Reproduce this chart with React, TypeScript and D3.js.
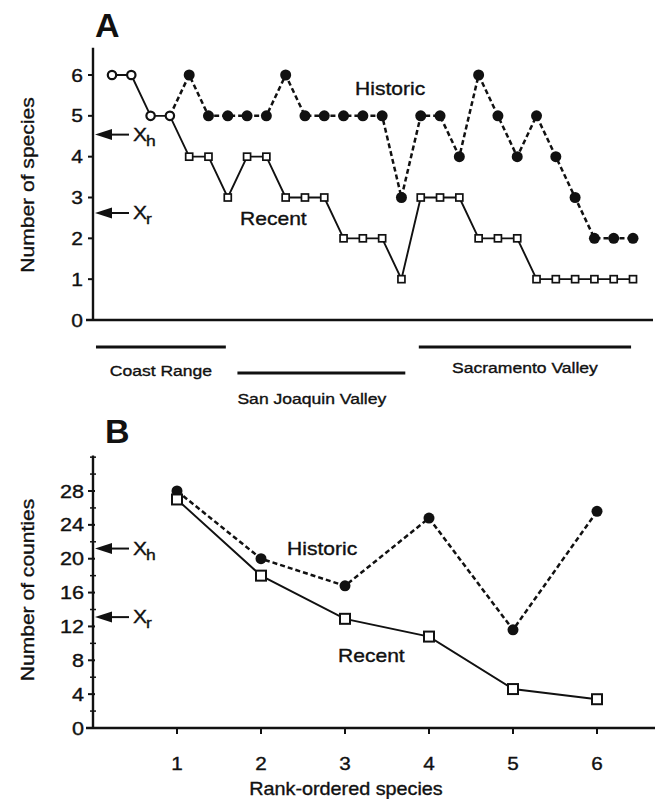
import React from "react";
import * as d3 from "d3";

// ---------- Panel A data ----------
const sitesA = [1, 2, 3, 4, 5, 6, 7, 8, 9, 10, 11, 12, 13, 14, 15, 16, 17, 18, 19, 20, 21, 22, 23, 24, 25, 26, 27, 28];
const historicA = [6, 6, 5, 5, 6, 5, 5, 5, 5, 6, 5, 5, 5, 5, 5, 3, 5, 5, 4, 6, 5, 4, 5, 4, 3, 2, 2, 2];
const recentA = [6, 6, 5, 5, 4, 4, 3, 4, 4, 3, 3, 3, 2, 2, 2, 1, 3, 3, 3, 2, 2, 2, 1, 1, 1, 1, 1, 1];
const yTicksA = [0, 1, 2, 3, 4, 5, 6];
const meanHistA = 4.54;
const meanRecA = 2.62;
const regionNames = ["Coast Range", "San Joaquin Valley", "Sacramento Valley"];
const regionStart = [0.17, 7.5, 16.9];
const regionEnd = [6.9, 16.2, 27.9];

// ---------- Panel B data ----------
const rankB = [1, 2, 3, 4, 5, 6];
const historicB = [28, 20, 16.8, 24.8, 11.6, 25.6];
const recentB = [27, 18, 12.9, 10.8, 4.6, 3.4];
const yTicksB = [0, 4, 8, 12, 16, 20, 24, 28];
const yMinorB = [2, 6, 10, 14, 18, 22, 26, 30, 32];
const meanHistB = 21.2;
const meanRecB = 13.1;

const INK = "#111";
const FONT = "'Liberation Sans', Arial, Helvetica, sans-serif";
const SX = 1.17;

function T(props: {
  x: number; y: number; size: number; children: React.ReactNode;
  anchor?: string; rotate?: number; weight?: string; sx?: number;
}) {
  const { x, y, size, children, anchor = "start", rotate = 0, weight = "normal", sx = SX } = props;
  return (
    <text
      transform={`translate(${x},${y}) rotate(${rotate}) scale(${sx},1)`}
      fontSize={size}
      fontFamily={FONT}
      fontWeight={weight}
      textAnchor={anchor}
      fill={INK}
      stroke={weight === "bold" ? "none" : INK}
      strokeWidth={0.35}
    >
      {children}
    </text>
  );
}

function MeanArrow({ axisX, y, sub }: { axisX: number; y: number; sub: string }) {
  const tip = axisX + 2;
  return (
    <g>
      <path d={`M${tip},${y} L${tip + 17},${y - 5.5} L${tip + 17},${y + 5.5} Z`} fill={INK} />
      <line x1={tip + 15} x2={tip + 34} y1={y} y2={y} stroke={INK} strokeWidth={2} />
      <T x={tip + 38} y={y + 6} size={18}>X</T>
      <T x={tip + 51} y={y + 11} size={15}>{sub}</T>
    </g>
  );
}

export default function App() {
  // ---- Panel A scales ----
  const xA = d3.scaleLinear().domain([1, 28]).range([112, 633]);
  const yA = d3.scaleLinear().domain([0, 6]).range([320, 75]);
  const axisXA = 93;

  const lineA = d3
    .line<number>()
    .x((_, i) => xA(sitesA[i]))
    .y((d) => yA(d));

  const firstDiv = historicA.findIndex((h, i) => h !== recentA[i]);
  const histDashed = historicA.map((h, i) => ({ s: sitesA[i], v: h })).slice(firstDiv - 1);
  const lineAObj = d3
    .line<{ s: number; v: number }>()
    .x((d) => xA(d.s))
    .y((d) => yA(d.v));

  // ---- Panel B scales ----
  const xB = d3.scaleLinear().domain([0, 6]).range([93, 597]);
  const yB = d3.scaleLinear().domain([0, 28]).range([728, 491]);
  const axisXB = xB(0);
  const lineB = d3
    .line<number>()
    .x((_, i) => xB(rankB[i]))
    .y((d) => yB(d));

  return (
    <svg width={655} height={799} style={{ display: "block", position: "absolute", left: 0, top: 0 }}>
      <rect width={655} height={799} fill="#fff" />

      {/* ================= Panel A ================= */}
      <T x={95} y={37} size={34} weight="bold" sx={1}>A</T>
      <line x1={axisXA} x2={axisXA} y1={yA(0)} y2={yA(6.67)} stroke={INK} strokeWidth={2.4} />
      <line x1={86} x2={653} y1={yA(0)} y2={yA(0)} stroke={INK} strokeWidth={2.4} />
      {yTicksA.map((t) => (
        <g key={t}>
          <line x1={axisXA - 5} x2={axisXA} y1={yA(t)} y2={yA(t)} stroke={INK} strokeWidth={2} />
          <T x={83} y={yA(t) + 6.5} size={18} anchor="end">{t}</T>
        </g>
      ))}
      <T x={34} y={185} size={18} anchor="middle" rotate={-90}>Number of species</T>

      <MeanArrow axisX={axisXA} y={yA(meanHistA)} sub="h" />
      <MeanArrow axisX={axisXA} y={yA(meanRecA)} sub="r" />

      <path d={lineA(recentA) || ""} fill="none" stroke={INK} strokeWidth={1.9} />
      <path d={lineAObj(histDashed) || ""} fill="none" stroke={INK} strokeWidth={2.5} strokeDasharray="5,3" />

      {historicA.map((h, i) =>
        h === recentA[i] ? (
          <circle key={"o" + i} cx={xA(sitesA[i])} cy={yA(h)} r={4.2} fill="#fff" stroke={INK} strokeWidth={2.2} />
        ) : (
          <circle key={"h" + i} cx={xA(sitesA[i])} cy={yA(h)} r={5.5} fill={INK} />
        )
      )}
      {recentA.map((r, i) =>
        r === historicA[i] ? null : (
          <rect key={"r" + i} x={xA(sitesA[i]) - 3.5} y={yA(r) - 3.5} width={7} height={7} fill="#fff" stroke={INK} strokeWidth={1.7} />
        )
      )}

      <T x={355} y={95} size={18}>Historic</T>
      <T x={240} y={225} size={18}>Recent</T>

      {regionNames.map((n, i) => {
        const x1 = xA(regionStart[i]);
        const x2 = xA(regionEnd[i]);
        const by = i === 1 ? 373 : 347;
        const ty = i === 1 ? 404 : i === 0 ? 376 : 373;
        const mid = i === 1 ? null : (x1 + x2) / 2;
        return (
          <g key={n}>
            <line x1={x1} x2={x2} y1={by} y2={by} stroke={INK} strokeWidth={2.8} />
            {mid === null ? (
              <T x={x1} y={ty} size={15}>{n}</T>
            ) : (
              <T x={mid} y={ty} size={15} anchor="middle">{n}</T>
            )}
          </g>
        );
      })}

      {/* ================= Panel B ================= */}
      <T x={105} y={443} size={34} weight="bold" sx={1}>B</T>
      <line x1={axisXB} x2={axisXB} y1={yB(0)} y2={yB(32.2)} stroke={INK} strokeWidth={2.4} />
      <line x1={86} x2={655} y1={yB(0)} y2={yB(0)} stroke={INK} strokeWidth={2.4} />
      {yMinorB.map((t) => (
        <line key={"m" + t} x1={axisXB - 3} x2={axisXB + 3} y1={yB(t)} y2={yB(t)} stroke={INK} strokeWidth={1.5} />
      ))}
      {yTicksB.map((t) => (
        <g key={t}>
          <line x1={axisXB - 5} x2={axisXB + 2} y1={yB(t)} y2={yB(t)} stroke={INK} strokeWidth={2} />
          <T x={84} y={yB(t) + 6.5} size={18} anchor="end" sx={1.2}>{t}</T>
        </g>
      ))}
      {rankB.map((t) => (
        <g key={"x" + t}>
          <line x1={xB(t)} x2={xB(t)} y1={yB(0)} y2={yB(0) + 6} stroke={INK} strokeWidth={2} />
          <T x={xB(t)} y={770} size={18} anchor="middle" sx={1.15}>{t}</T>
        </g>
      ))}
      <T x={346} y={795} size={18} anchor="middle" sx={1.1}>Rank-ordered species</T>
      <T x={34} y={590} size={18} anchor="middle" rotate={-90}>Number of counties</T>

      <MeanArrow axisX={axisXB} y={yB(meanHistB)} sub="h" />
      <MeanArrow axisX={axisXB} y={yB(meanRecB)} sub="r" />

      <path d={lineB(recentB) || ""} fill="none" stroke={INK} strokeWidth={1.9} />
      <path d={lineB(historicB) || ""} fill="none" stroke={INK} strokeWidth={2.5} strokeDasharray="5,3" />
      {historicB.map((h, i) => (
        <circle key={"hb" + i} cx={xB(rankB[i])} cy={yB(h)} r={5.5} fill={INK} />
      ))}
      {recentB.map((r, i) => (
        <rect key={"rb" + i} x={xB(rankB[i]) - 5} y={yB(r) - 5} width={10} height={10} fill="#fff" stroke={INK} strokeWidth={2} />
      ))}

      <T x={287} y={555} size={18}>Historic</T>
      <T x={338} y={662} size={18}>Recent</T>
    </svg>
  );
}
